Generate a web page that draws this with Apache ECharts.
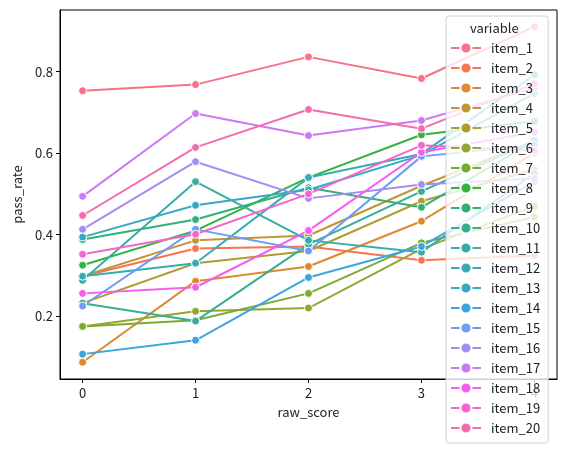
<!DOCTYPE html>
<html lang="en">
<head>
<meta charset="UTF-8">
<title>pass_rate by raw_score</title>
<script src="https://cdn.jsdelivr.net/npm/echarts@6/dist/echarts.min.js"></script>
<style>
    html, body { margin: 0; padding: 0; background: #fff; }
    #main { width: 565px; height: 449px; }
</style>
</head>
<body>
<div id="main"></div>
<script type="text/javascript">
    // x values and tick labels
    const rawScore = [0, 1, 2, 3, 4];
    const yTicks = [0.2, 0.4, 0.6, 0.8];

    // pass_rate per item (raw_score 0..4)
    const item_1  = [0.753, 0.768, 0.836, 0.783, 0.910];
    const item_2  = [0.298, 0.366, 0.371, 0.337, 0.349];
    const item_3  = [0.087, 0.286, 0.322, 0.433, 0.600];
    const item_4  = [0.298, 0.386, 0.398, 0.520, 0.630];
    const item_5  = [0.232, 0.330, 0.360, 0.482, 0.560];
    const item_6  = [0.175, 0.212, 0.220, 0.365, 0.470];
    const item_7  = [0.175, 0.190, 0.256, 0.380, 0.443];
    const item_8  = [0.325, 0.410, 0.540, 0.645, 0.678];
    const item_9  = [0.388, 0.437, 0.515, 0.467, 0.630];
    const item_10 = [0.232, 0.188, 0.376, 0.506, 0.631];
    const item_11 = [0.288, 0.530, 0.386, 0.357, 0.550];
    const item_12 = [0.298, 0.330, 0.540, 0.598, 0.792];
    const item_13 = [0.394, 0.472, 0.510, 0.595, 0.746];
    const item_14 = [0.107, 0.141, 0.295, 0.371, 0.530];
    const item_15 = [0.225, 0.413, 0.360, 0.592, 0.620];
    const item_16 = [0.413, 0.579, 0.489, 0.523, 0.538];
    const item_17 = [0.494, 0.697, 0.643, 0.680, 0.760];
    const item_18 = [0.256, 0.271, 0.410, 0.602, 0.651];
    const item_19 = [0.352, 0.401, 0.500, 0.619, 0.606];
    const item_20 = [0.447, 0.614, 0.707, 0.660, 0.770];

    const itemNames = ['item_1', 'item_2', 'item_3', 'item_4', 'item_5', 'item_6', 'item_7',
        'item_8', 'item_9', 'item_10', 'item_11', 'item_12', 'item_13', 'item_14', 'item_15',
        'item_16', 'item_17', 'item_18', 'item_19', 'item_20'];
    const itemValues = [item_1, item_2, item_3, item_4, item_5, item_6, item_7, item_8, item_9, item_10,
        item_11, item_12, item_13, item_14, item_15, item_16, item_17, item_18, item_19, item_20];

    // husl-like palette, one colour per item
    const palette = ['#f77189', '#f7754f', '#dc8932', '#c39532', '#ae9d31', '#97a431', '#77ab31',
        '#31b33e', '#33b07a', '#35ae93', '#36ada4', '#37abb4', '#38a9c5', '#3aa5df', '#6e9bf4',
        '#a48cf4', '#cc7af4', '#f45cf2', '#f565cc', '#f66bad'];

    const font = '"Noto Sans CJK JP", "DejaVu Sans", sans-serif';

    let myChart = echarts.init(document.getElementById('main'));

    const series = itemNames.map(function (name, i) {
        return {
            name: name,
            type: 'line',
            data: rawScore.map(function (x, j) { return [x, itemValues[i][j]]; }),
            symbol: 'circle',
            symbolSize: 8,
            showSymbol: true,
            lineStyle: { width: 2, color: palette[i] },
            itemStyle: { color: palette[i], borderColor: '#fff', borderWidth: 1 },
            emphasis: { disabled: true },
            animation: false
        };
    });

    const option = {
        animation: false,
        color: palette,
        title: {
            text: 'variable',
            left: 470,
            top: 22,
            padding: 0,
            textStyle: { fontFamily: font, fontSize: 13, fontWeight: 'normal', color: '#222' }
        },
        grid: {
            left: 60, right: 8, top: 10, bottom: 70,
            show: true, borderColor: '#000', borderWidth: 1, backgroundColor: 'transparent'
        },
        legend: {
            orient: 'vertical',
            left: 446,
            top: 16,
            height: 430,
            padding: [25, 8, 8, 4],
            itemWidth: 30,
            itemHeight: 14,
            itemGap: 6,
            backgroundColor: 'rgba(255,255,255,0.8)',
            borderColor: '#d0d0d0',
            borderWidth: 1,
            borderRadius: 3,
            textStyle: { fontFamily: font, fontSize: 13, color: '#222', lineHeight: 14, padding: [0, 0, 0, 5] },
            data: itemNames
        },
        xAxis: {
            type: 'value',
            min: -0.2,
            max: 4.2,
            name: 'raw_score',
            nameLocation: 'middle',
            nameGap: 27,
            nameTextStyle: { fontFamily: font, fontSize: 13, color: '#222' },
            axisLine: { show: true, onZero: false, lineStyle: { color: '#000', width: 1 } },
            axisTick: { show: true, length: 4, lineStyle: { color: '#000' }, customValues: rawScore },
            axisLabel: { fontFamily: font, fontSize: 13, color: '#222', margin: 8, customValues: rawScore },
            splitLine: { show: false }
        },
        yAxis: {
            type: 'value',
            min: 0.046,
            max: 0.951,
            name: 'pass_rate',
            nameLocation: 'middle',
            nameGap: 36,
            nameTextStyle: { fontFamily: font, fontSize: 13, color: '#222' },
            axisLine: { show: true, onZero: false, lineStyle: { color: '#000', width: 1 } },
            axisTick: { show: true, length: 4, lineStyle: { color: '#000' }, customValues: yTicks },
            axisLabel: {
                fontFamily: font, fontSize: 13, color: '#222', margin: 7, customValues: yTicks,
                formatter: function (v) { return v.toFixed(1); }
            },
            splitLine: { show: false }
        },
        tooltip: { show: false },
        series: series
    };
    myChart.setOption(option);
</script>
</body>
</html>
